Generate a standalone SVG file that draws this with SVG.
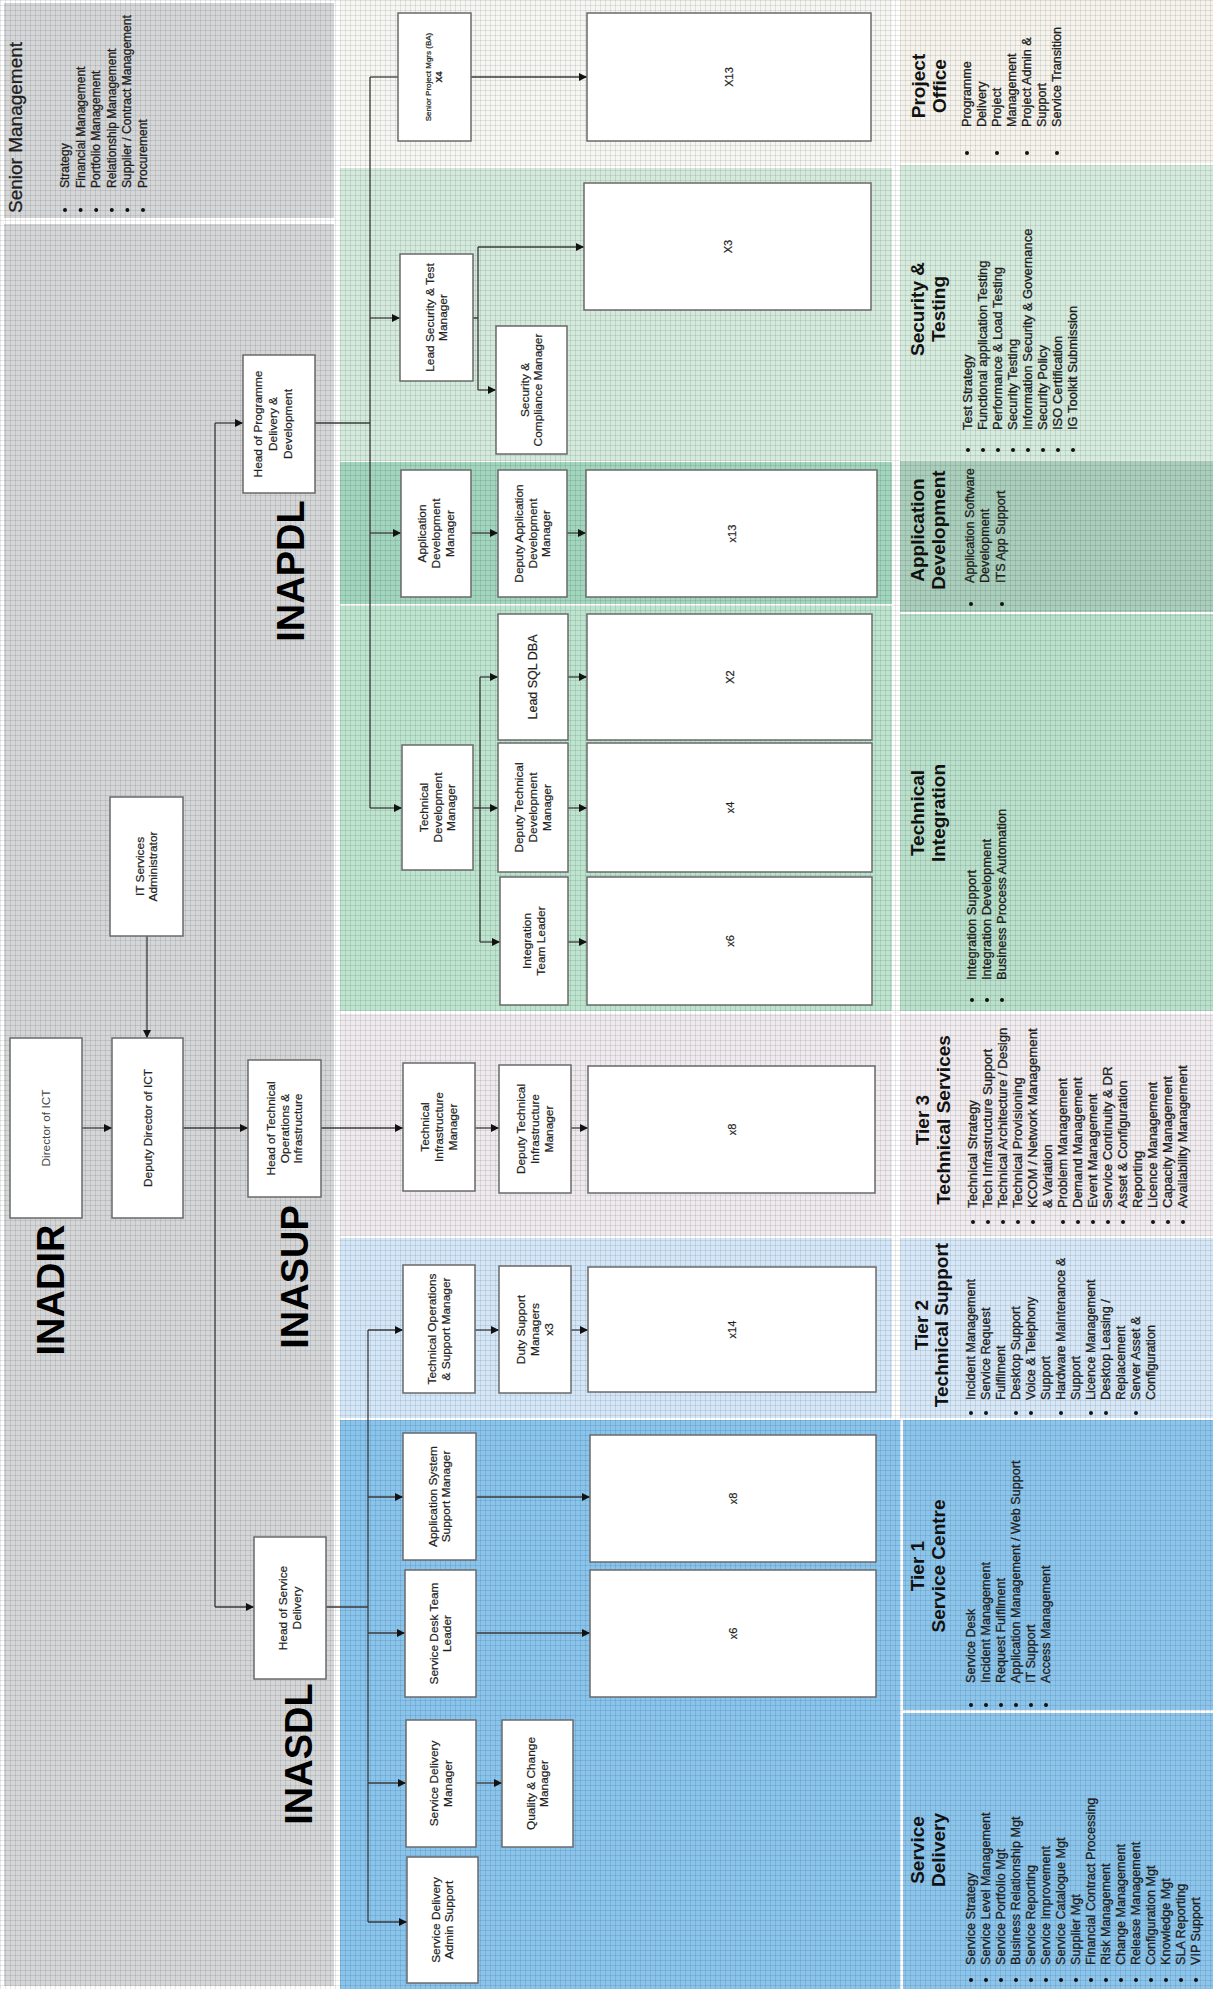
<svg xmlns="http://www.w3.org/2000/svg" width="1228" height="1989" viewBox="0 0 1228 1989">
<defs>
<style>
.bx{fill:#fff;stroke:#6a6a6a;stroke-width:1.5}
.t{font-family:"Liberation Sans",Arial,sans-serif;font-size:11px;fill:#222;stroke:#222;stroke-width:0.2;text-anchor:middle}
.tc{font-family:"Liberation Sans",Arial,sans-serif;font-size:11px;fill:#444;text-anchor:middle}
.li{font-family:"Liberation Sans",Arial,sans-serif;font-size:12px;fill:#1e1e1e;stroke:#1e1e1e;stroke-width:0.3}
.ti{font-family:"Liberation Sans",Arial,sans-serif;font-size:19px;font-weight:bold;fill:#111;text-anchor:middle}
.big{font-family:"Liberation Sans",Arial,sans-serif;font-size:38px;font-weight:bold;fill:#000;text-anchor:middle}
.c{stroke:#3a3a3a;stroke-width:1.3;fill:none}
.a{stroke:#3a3a3a;stroke-width:1.3;fill:none;marker-end:url(#ah)}
.bu{fill:#111}
</style>
<marker id="ah" viewBox="0 0 8 8" refX="8" refY="4" markerWidth="8" markerHeight="8" markerUnits="userSpaceOnUse" orient="auto"><path d="M0,0 L8,4 L0,8 z" fill="#111"/></marker>
<pattern id="grid" width="5" height="5" patternUnits="userSpaceOnUse"><path d="M0 0.5H5M0.5 0V5" stroke="#000" stroke-opacity="0.09" stroke-width="1"/></pattern>
</defs>

<g id="background">
<rect x="0" y="0" width="1228" height="1989" fill="#fff"/>
<rect x="4" y="3" width="330" height="215" fill="#d5d6d8"/>
<rect x="4" y="224" width="330" height="1762" fill="#d5d6d8"/>
<rect x="340" y="0" width="552" height="166" fill="#f6f6f3"/>
<rect x="340" y="168" width="552" height="293" fill="#d3eadc"/>
<rect x="340" y="462" width="552" height="142" fill="#a2d5bd"/>
<rect x="340" y="606" width="552" height="405" fill="#bde4cf"/>
<rect x="340" y="1014" width="552" height="222" fill="#efeaee"/>
<rect x="340" y="1238" width="552" height="180" fill="#d4e7f8"/>
<rect x="340" y="1420" width="560" height="569" fill="#89c4ed"/>
<rect x="900" y="0" width="313" height="163" fill="#f5f3ec"/>
<rect x="900" y="165" width="313" height="295" fill="#d5ebde"/>
<rect x="900" y="461" width="313" height="151" fill="#a9cebb"/>
<rect x="900" y="614" width="313" height="397" fill="#b9e0cb"/>
<rect x="900" y="1014" width="313" height="222" fill="#f1ecef"/>
<rect x="900" y="1238" width="313" height="180" fill="#d6e8f7"/>
<rect x="903" y="1420" width="310" height="290" fill="#8cc5ec"/>
<rect x="903" y="1713" width="310" height="276" fill="#8cc5ec"/>
<rect x="0" y="0" width="1213" height="1989" fill="url(#grid)"/>
</g>

<g id="section-labels">
<text class="big" transform="translate(64,1290) rotate(-90)">INADIR</text>
<text class="big" transform="translate(304,571) rotate(-90)">INAPDL</text>
<text class="big" transform="translate(308,1277) rotate(-90)">INASUP</text>
<text class="big" transform="translate(312,1754) rotate(-90)">INASDL</text>
</g>

<g id="connectors">
<line class="a" x1="82" y1="1128" x2="112" y2="1128"/>
<line class="a" x1="147" y1="936" x2="147" y2="1038"/>
<line class="c" x1="215" y1="423" x2="215" y2="1607"/>
<line class="a" x1="183" y1="1128" x2="248" y2="1128"/>
<line class="a" x1="215" y1="423" x2="243" y2="423"/>
<line class="a" x1="215" y1="1607" x2="254" y2="1607"/>
<line class="c" x1="315" y1="423" x2="370" y2="423"/>
<line class="c" x1="370" y1="77" x2="370" y2="808"/>
<line class="c" x1="370" y1="77" x2="398" y2="77"/>
<line class="a" x1="471" y1="77" x2="587" y2="77"/>
<line class="a" x1="370" y1="318" x2="400" y2="318"/>
<path class="c" d="M473 318H478M478 247V390"/>
<line class="a" x1="478" y1="247" x2="584" y2="247"/>
<line class="a" x1="478" y1="390" x2="496" y2="390"/>
<line class="a" x1="370" y1="533" x2="401" y2="533"/>
<line class="a" x1="471" y1="533" x2="498" y2="533"/>
<line class="a" x1="567" y1="533" x2="586" y2="533"/>
<line class="a" x1="370" y1="808" x2="402" y2="808"/>
<path class="c" d="M473 808H480M480 677V942"/>
<line class="a" x1="480" y1="677" x2="498" y2="677"/>
<line class="a" x1="480" y1="808" x2="498" y2="808"/>
<line class="a" x1="480" y1="942" x2="500" y2="942"/>
<line class="a" x1="568" y1="677" x2="587" y2="677"/>
<line class="a" x1="568" y1="808" x2="587" y2="808"/>
<line class="a" x1="568" y1="942" x2="587" y2="942"/>
<line class="a" x1="321" y1="1128" x2="403" y2="1128"/>
<line class="a" x1="475" y1="1128" x2="499" y2="1128"/>
<line class="a" x1="571" y1="1128" x2="588" y2="1128"/>
<line class="c" x1="326" y1="1607" x2="368" y2="1607"/>
<line class="c" x1="368" y1="1330" x2="368" y2="1922"/>
<line class="a" x1="368" y1="1330" x2="403" y2="1330"/>
<line class="a" x1="368" y1="1497" x2="403" y2="1497"/>
<line class="a" x1="368" y1="1633" x2="405" y2="1633"/>
<line class="a" x1="368" y1="1783" x2="406" y2="1783"/>
<line class="a" x1="368" y1="1922" x2="407" y2="1922"/>
<line class="a" x1="475" y1="1330" x2="499" y2="1330"/>
<line class="a" x1="571" y1="1330" x2="588" y2="1330"/>
<line class="a" x1="476" y1="1497" x2="590" y2="1497"/>
<line class="a" x1="476" y1="1633" x2="590" y2="1633"/>
<line class="a" x1="476" y1="1783" x2="502" y2="1783"/>
</g>

<g id="n-director"><rect class="bx" x="10" y="1038" width="72" height="180"/><text class="tc" transform="translate(46,1128) rotate(-90) scale(1.08,1)"><tspan x="0" y="4">Director of ICT</tspan></text></g>
<g id="n-deputy"><rect class="bx" x="112" y="1038" width="71" height="180"/><text class="t" transform="translate(147.5,1128) rotate(-90) scale(1.08,1)"><tspan x="0" y="4">Deputy Director of ICT</tspan></text></g>
<g id="n-itadmin"><rect class="bx" x="110" y="797" width="73" height="139"/><text class="t" transform="translate(146.5,866.5) rotate(-90) scale(1.08,1)"><tspan x="0" y="-3">IT Services</tspan><tspan x="0" y="11">Administrator</tspan></text></g>
<g id="n-headprog"><rect class="bx" x="243" y="355" width="72" height="138"/><text class="t" transform="translate(277,424) rotate(-90) scale(1.08,1)"><tspan x="0" y="-15">Head of Programme</tspan><tspan x="0" y="0">Delivery &amp;</tspan><tspan x="0" y="15">Development</tspan></text></g>
<g id="n-headtech"><rect class="bx" x="248" y="1060" width="73" height="137"/><text class="t" transform="translate(284.5,1128.5) rotate(-90) scale(1.08,1)"><tspan x="0" y="-10">Head of Technical</tspan><tspan x="0" y="4">Operations &amp;</tspan><tspan x="0" y="18">Infrastructure</tspan></text></g>
<g id="n-headsd"><rect class="bx" x="254" y="1537" width="72" height="142"/><text class="t" transform="translate(290,1608) rotate(-90) scale(1.08,1)"><tspan x="0" y="-3">Head of Service</tspan><tspan x="0" y="11">Delivery</tspan></text></g>

<g id="n-seniorpm"><rect class="bx" x="398" y="13" width="73" height="128"/><text class="t" transform="translate(434.5,77) rotate(-90)"><tspan x="0" y="-4" style="font-size:8px">Senior Project Mgrs (BA)</tspan><tspan x="0" y="7" style="font-size:9px;font-weight:bold">X4</tspan></text></g>
<g id="n-x13a"><rect class="bx" x="587" y="13" width="284" height="128"/><text class="t" transform="translate(729,77) rotate(-90)"><tspan x="0" y="4">X13</tspan></text></g>
<g id="n-leadsec"><rect class="bx" x="400" y="254" width="73" height="127"/><text class="t" transform="translate(436.5,317.5) rotate(-90) scale(1.08,1)"><tspan x="0" y="-3">Lead Security &amp; Test</tspan><tspan x="0" y="11">Manager</tspan></text></g>
<g id="n-x3"><rect class="bx" x="584" y="183" width="287" height="127"/><text class="t" transform="translate(727.5,246.5) rotate(-90)"><tspan x="0" y="4">X3</tspan></text></g>
<g id="n-seccomp"><rect class="bx" x="496" y="326" width="71" height="128"/><text class="t" transform="translate(531.5,390) rotate(-90) scale(1.08,1)"><tspan x="0" y="-3">Security &amp;</tspan><tspan x="0" y="11">Compliance Manager</tspan></text></g>
<g id="n-adm"><rect class="bx" x="401" y="470" width="70" height="127"/><text class="t" transform="translate(436,533.5) rotate(-90) scale(1.08,1)"><tspan x="0" y="-10">Application</tspan><tspan x="0" y="4">Development</tspan><tspan x="0" y="18">Manager</tspan></text></g>
<g id="n-dadm"><rect class="bx" x="498" y="470" width="69" height="127"/><text class="t" transform="translate(532.5,533.5) rotate(-90) scale(1.08,1)"><tspan x="0" y="-10">Deputy Application</tspan><tspan x="0" y="4">Development</tspan><tspan x="0" y="18">Manager</tspan></text></g>
<g id="n-x13b"><rect class="bx" x="586" y="470" width="291" height="127"/><text class="t" transform="translate(731.5,533.5) rotate(-90)"><tspan x="0" y="4">x13</tspan></text></g>
<g id="n-tdm"><rect class="bx" x="402" y="745" width="71" height="125"/><text class="t" transform="translate(437.5,807.5) rotate(-90) scale(1.08,1)"><tspan x="0" y="-10">Technical</tspan><tspan x="0" y="4">Development</tspan><tspan x="0" y="18">Manager</tspan></text></g>
<g id="n-sqldba"><rect class="bx" x="498" y="614" width="70" height="126"/><text class="t" transform="translate(533,677) rotate(-90)" style="font-size:12.5px"><tspan x="0" y="4">Lead SQL DBA</tspan></text></g>
<g id="n-dtdm"><rect class="bx" x="498" y="743" width="70" height="129"/><text class="t" transform="translate(533,807.5) rotate(-90) scale(1.08,1)"><tspan x="0" y="-10">Deputy Technical</tspan><tspan x="0" y="4">Development</tspan><tspan x="0" y="18">Manager</tspan></text></g>
<g id="n-itl"><rect class="bx" x="500" y="877" width="68" height="128"/><text class="t" transform="translate(534,941) rotate(-90) scale(1.08,1)"><tspan x="0" y="-3">Integration</tspan><tspan x="0" y="11">Team Leader</tspan></text></g>
<g id="n-x2"><rect class="bx" x="587" y="614" width="285" height="126"/><text class="t" transform="translate(729.5,677) rotate(-90)"><tspan x="0" y="4">X2</tspan></text></g>
<g id="n-x4"><rect class="bx" x="587" y="743" width="285" height="129"/><text class="t" transform="translate(729.5,807.5) rotate(-90)"><tspan x="0" y="4">x4</tspan></text></g>
<g id="n-x6a"><rect class="bx" x="587" y="877" width="285" height="128"/><text class="t" transform="translate(729.5,941) rotate(-90)"><tspan x="0" y="4">x6</tspan></text></g>

<g id="n-tim"><rect class="bx" x="403" y="1063" width="72" height="128"/><text class="t" transform="translate(439,1127) rotate(-90) scale(1.08,1)"><tspan x="0" y="-10">Technical</tspan><tspan x="0" y="4">Infrastructure</tspan><tspan x="0" y="18">Manager</tspan></text></g>
<g id="n-dtim"><rect class="bx" x="499" y="1065" width="72" height="128"/><text class="t" transform="translate(535,1129) rotate(-90) scale(1.08,1)"><tspan x="0" y="-10">Deputy Technical</tspan><tspan x="0" y="4">Infrastructure</tspan><tspan x="0" y="18">Manager</tspan></text></g>
<g id="n-x8a"><rect class="bx" x="588" y="1066" width="287" height="127"/><text class="t" transform="translate(731.5,1129.5) rotate(-90)"><tspan x="0" y="4">x8</tspan></text></g>
<g id="n-tosm"><rect class="bx" x="403" y="1265" width="72" height="128"/><text class="t" transform="translate(439,1329) rotate(-90) scale(1.08,1)"><tspan x="0" y="-3">Technical Operations</tspan><tspan x="0" y="11">&amp; Support Manager</tspan></text></g>
<g id="n-duty"><rect class="bx" x="499" y="1266" width="72" height="127"/><text class="t" transform="translate(535,1329.5) rotate(-90) scale(1.08,1)"><tspan x="0" y="-10">Duty Support</tspan><tspan x="0" y="4">Managers</tspan><tspan x="0" y="18">x3</tspan></text></g>
<g id="n-x14"><rect class="bx" x="588" y="1267" width="288" height="125"/><text class="t" transform="translate(732,1329.5) rotate(-90)"><tspan x="0" y="4">x14</tspan></text></g>

<g id="n-assm"><rect class="bx" x="403" y="1433" width="73" height="127"/><text class="t" transform="translate(439.5,1496.5) rotate(-90) scale(1.08,1)"><tspan x="0" y="-3">Application System</tspan><tspan x="0" y="11">Support Manager</tspan></text></g>
<g id="n-x8b"><rect class="bx" x="590" y="1435" width="286" height="127"/><text class="t" transform="translate(733,1498.5) rotate(-90)"><tspan x="0" y="4">x8</tspan></text></g>
<g id="n-sdtl"><rect class="bx" x="405" y="1570" width="71" height="127"/><text class="t" transform="translate(440.5,1633.5) rotate(-90) scale(1.08,1)"><tspan x="0" y="-3">Service Desk Team</tspan><tspan x="0" y="11">Leader</tspan></text></g>
<g id="n-x6b"><rect class="bx" x="590" y="1570" width="286" height="127"/><text class="t" transform="translate(733,1633.5) rotate(-90)"><tspan x="0" y="4">x6</tspan></text></g>
<g id="n-sdm"><rect class="bx" x="406" y="1720" width="70" height="127"/><text class="t" transform="translate(441,1783.5) rotate(-90) scale(1.08,1)"><tspan x="0" y="-3">Service Delivery</tspan><tspan x="0" y="11">Manager</tspan></text></g>
<g id="n-qcm"><rect class="bx" x="502" y="1720" width="71" height="127"/><text class="t" transform="translate(537.5,1783.5) rotate(-90) scale(1.08,1)"><tspan x="0" y="-3">Quality &amp; Change</tspan><tspan x="0" y="11">Manager</tspan></text></g>
<g id="n-sdas"><rect class="bx" x="407" y="1857" width="71" height="126"/><text class="t" transform="translate(442.5,1920) rotate(-90) scale(1.08,1)"><tspan x="0" y="-3">Service Delivery</tspan><tspan x="0" y="11">Admin Support</tspan></text></g>

<g id="senior-management">
<text class="li" transform="translate(22,213) rotate(-90)" style="font-size:19px">Senior Management</text>
<text class="li" transform="translate(69,188) rotate(-90)"><tspan x="0" y="0">Strategy</tspan><tspan x="0" y="15.6">Financial Management</tspan><tspan x="0" y="31.2">Portfolio Management</tspan><tspan x="0" y="46.8">Relationship Management</tspan><tspan x="0" y="62.4">Supplier / Contract Management</tspan><tspan x="0" y="78">Procurement</tspan></text>
<g class="bu"><circle cx="65" cy="210" r="2"/><circle cx="80.6" cy="210" r="2"/><circle cx="96.2" cy="210" r="2"/><circle cx="111.8" cy="210" r="2"/><circle cx="127.4" cy="210" r="2"/><circle cx="143" cy="210" r="2"/></g>
</g>

<g id="panel-project-office">
<text class="ti" transform="translate(0,86) rotate(-90)"><tspan x="0" y="925">Project</tspan><tspan x="0" y="946">Office</tspan></text>
<text class="li" transform="translate(971,127) rotate(-90) scale(1.05,1)"><tspan x="0" y="0">Programme</tspan><tspan x="0" y="15">Delivery</tspan><tspan x="0" y="30">Project</tspan><tspan x="0" y="45">Management</tspan><tspan x="0" y="60">Project Admin &amp;</tspan><tspan x="0" y="75">Support</tspan><tspan x="0" y="90">Service Transition</tspan></text>
<g class="bu"><circle cx="967" cy="153" r="2"/><circle cx="997" cy="153" r="2"/><circle cx="1027" cy="153" r="2"/><circle cx="1057" cy="153" r="2"/></g>
</g>

<g id="panel-security">
<text class="ti" transform="translate(0,309) rotate(-90)"><tspan x="0" y="924">Security &amp;</tspan><tspan x="0" y="945">Testing</tspan></text>
<text class="li" transform="translate(972,430) rotate(-90) scale(1.08,1)"><tspan x="0" y="0">Test Strategy</tspan><tspan x="0" y="15">Functional application Testing</tspan><tspan x="0" y="30">Performance &amp; Load Testing</tspan><tspan x="0" y="45">Security Testing</tspan><tspan x="0" y="60">Information Security &amp; Governance</tspan><tspan x="0" y="75">Security Policy</tspan><tspan x="0" y="90">ISO Certification</tspan><tspan x="0" y="105">IG Toolkit Submission</tspan></text>
<g class="bu"><circle cx="968" cy="450" r="2"/><circle cx="983" cy="450" r="2"/><circle cx="998" cy="450" r="2"/><circle cx="1013" cy="450" r="2"/><circle cx="1028" cy="450" r="2"/><circle cx="1043" cy="450" r="2"/><circle cx="1058" cy="450" r="2"/><circle cx="1073" cy="450" r="2"/></g>
</g>

<g id="panel-appdev">
<text class="ti" transform="translate(0,530) rotate(-90)"><tspan x="0" y="924">Application</tspan><tspan x="0" y="945">Development</tspan></text>
<text class="li" transform="translate(974,583) rotate(-90) scale(1.05,1)"><tspan x="0" y="0">Application Software</tspan><tspan x="0" y="15.5">Development</tspan><tspan x="0" y="31">ITS App Support</tspan></text>
<g class="bu"><circle cx="971" cy="604" r="2"/><circle cx="1002" cy="604" r="2"/></g>
</g>

<g id="panel-techint">
<text class="ti" transform="translate(0,813) rotate(-90)"><tspan x="0" y="924">Technical</tspan><tspan x="0" y="945">Integration</tspan></text>
<text class="li" transform="translate(976,980) rotate(-90) scale(1.08,1)"><tspan x="0" y="0">Integration Support</tspan><tspan x="0" y="15">Integration Development</tspan><tspan x="0" y="30">Business Process Automation</tspan></text>
<g class="bu"><circle cx="972" cy="1000" r="2"/><circle cx="987" cy="1000" r="2"/><circle cx="1002" cy="1000" r="2"/></g>
</g>

<g id="panel-tier3">
<text class="ti" transform="translate(0,1120) rotate(-90)"><tspan x="0" y="929">Tier 3</tspan><tspan x="0" y="950">Technical Services</tspan></text>
<text class="li" transform="translate(977,1208) rotate(-90) scale(1.1,1)"><tspan x="0" y="0">Technical Strategy</tspan><tspan x="0" y="15">Tech Infrastructure Support</tspan><tspan x="0" y="30">Technical Architecture / Design</tspan><tspan x="0" y="45">Technical Provisioning</tspan><tspan x="0" y="60">KCOM / Network Management</tspan><tspan x="0" y="75">&amp; Variation</tspan><tspan x="0" y="90">Problem Management</tspan><tspan x="0" y="105">Demand Management</tspan><tspan x="0" y="120">Event Management</tspan><tspan x="0" y="135">Service Continuity &amp; DR</tspan><tspan x="0" y="150">Asset &amp; Configuration</tspan><tspan x="0" y="165">Reporting</tspan><tspan x="0" y="180">Licence Management</tspan><tspan x="0" y="195">Capacity Management</tspan><tspan x="0" y="210">Availability Management</tspan></text>
<g class="bu"><circle cx="973" cy="1222" r="2"/><circle cx="988" cy="1222" r="2"/><circle cx="1003" cy="1222" r="2"/><circle cx="1018" cy="1222" r="2"/><circle cx="1033" cy="1222" r="2"/><circle cx="1063" cy="1222" r="2"/><circle cx="1078" cy="1222" r="2"/><circle cx="1093" cy="1222" r="2"/><circle cx="1108" cy="1222" r="2"/><circle cx="1123" cy="1222" r="2"/><circle cx="1153" cy="1222" r="2"/><circle cx="1168" cy="1222" r="2"/><circle cx="1183" cy="1222" r="2"/></g>
</g>

<g id="panel-tier2">
<text class="ti" transform="translate(0,1325) rotate(-90)"><tspan x="0" y="928">Tier 2</tspan><tspan x="0" y="948">Technical Support</tspan></text>
<text class="li" transform="translate(975,1400) rotate(-90) scale(1.05,1)"><tspan x="0" y="0">Incident Management</tspan><tspan x="0" y="15">Service Request</tspan><tspan x="0" y="30">Fulfilment</tspan><tspan x="0" y="45">Desktop Support</tspan><tspan x="0" y="60">Voice &amp; Telephony</tspan><tspan x="0" y="75">Support</tspan><tspan x="0" y="90">Hardware Maintenance &amp;</tspan><tspan x="0" y="105">Support</tspan><tspan x="0" y="120">Licence Management</tspan><tspan x="0" y="135">Desktop Leasing /</tspan><tspan x="0" y="150">Replacement</tspan><tspan x="0" y="165">Server Asset &amp;</tspan><tspan x="0" y="180">Configuration</tspan></text>
<g class="bu"><circle cx="971" cy="1413" r="2"/><circle cx="986" cy="1413" r="2"/><circle cx="1016" cy="1413" r="2"/><circle cx="1031" cy="1413" r="2"/><circle cx="1061" cy="1413" r="2"/><circle cx="1091" cy="1413" r="2"/><circle cx="1106" cy="1413" r="2"/><circle cx="1136" cy="1413" r="2"/></g>
</g>

<g id="panel-tier1">
<text class="ti" transform="translate(0,1566) rotate(-90)"><tspan x="0" y="924">Tier 1</tspan><tspan x="0" y="945">Service Centre</tspan></text>
<text class="li" transform="translate(975,1683) rotate(-90) scale(1.05,1)"><tspan x="0" y="0">Service Desk</tspan><tspan x="0" y="15">Incident Management</tspan><tspan x="0" y="30">Request Fulfilment</tspan><tspan x="0" y="45">Application Management / Web Support</tspan><tspan x="0" y="60">IT Support</tspan><tspan x="0" y="75">Access Management</tspan></text>
<g class="bu"><circle cx="971" cy="1705" r="2"/><circle cx="986" cy="1705" r="2"/><circle cx="1001" cy="1705" r="2"/><circle cx="1016" cy="1705" r="2"/><circle cx="1031" cy="1705" r="2"/><circle cx="1046" cy="1705" r="2"/></g>
</g>

<g id="panel-service-delivery">
<text class="ti" transform="translate(0,1850) rotate(-90)"><tspan x="0" y="924">Service</tspan><tspan x="0" y="945">Delivery</tspan></text>
<text class="li" transform="translate(975,1965) rotate(-90) scale(1.05,1)"><tspan x="0" y="0">Service Strategy</tspan><tspan x="0" y="15">Service Level Management</tspan><tspan x="0" y="30">Service Portfolio Mgt</tspan><tspan x="0" y="45">Business Relationship Mgt</tspan><tspan x="0" y="60">Service Reporting</tspan><tspan x="0" y="75">Service Improvement</tspan><tspan x="0" y="90">Service Catalogue Mgt</tspan><tspan x="0" y="105">Supplier Mgt</tspan><tspan x="0" y="120">Financial Contract Processing</tspan><tspan x="0" y="135">Risk Management</tspan><tspan x="0" y="150">Change Management</tspan><tspan x="0" y="165">Release Management</tspan><tspan x="0" y="180">Configuration Mgt</tspan><tspan x="0" y="195">Knowledge Mgt</tspan><tspan x="0" y="210">SLA Reporting</tspan><tspan x="0" y="225">VIP Support</tspan></text>
<g class="bu"><circle cx="971" cy="1980" r="2"/><circle cx="986" cy="1980" r="2"/><circle cx="1001" cy="1980" r="2"/><circle cx="1016" cy="1980" r="2"/><circle cx="1031" cy="1980" r="2"/><circle cx="1046" cy="1980" r="2"/><circle cx="1061" cy="1980" r="2"/><circle cx="1076" cy="1980" r="2"/><circle cx="1091" cy="1980" r="2"/><circle cx="1106" cy="1980" r="2"/><circle cx="1121" cy="1980" r="2"/><circle cx="1136" cy="1980" r="2"/><circle cx="1151" cy="1980" r="2"/><circle cx="1166" cy="1980" r="2"/><circle cx="1181" cy="1980" r="2"/><circle cx="1196" cy="1980" r="2"/></g>
</g>
</svg>
